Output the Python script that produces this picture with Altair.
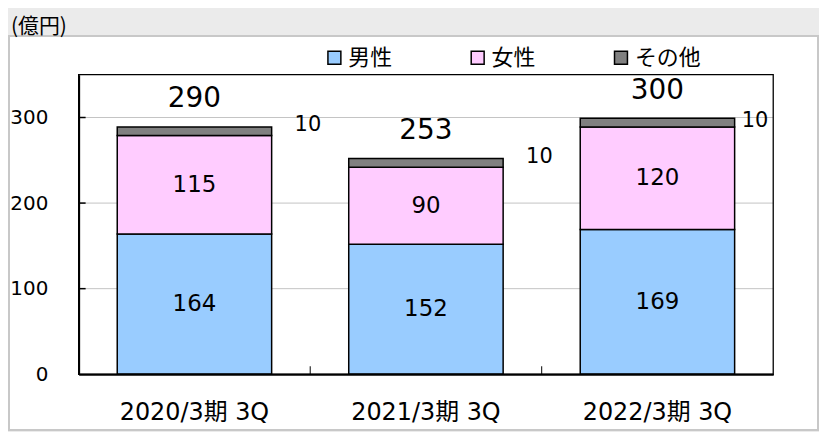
import altair as alt
import pandas as pd

categories = ["2020/3期 3Q", "2021/3期 3Q", "2022/3期 3Q"]
series = ["男性", "女性", "その他"]
male = [164, 152, 169]
female = [115, 90, 120]
other = [10, 10, 10]
totals = [290, 253, 300]
y_ticks = [0, 100, 200, 300]
colors = ["#99CCFF", "#FFCCFF", "#808080"]

rows = []
for i, c in enumerate(categories):
    for k, (s, vals) in enumerate(zip(series, [male, female, other])):
        rows.append({"cat": c, "series": s, "value": vals[i], "order": k})
df = pd.DataFrame(rows)
tot_df = pd.DataFrame({"cat": categories, "total": totals})
tick_df = pd.DataFrame({"v": y_ticks[1:]})
xtick_df = pd.DataFrame({"cat": categories[:-1]})

NUM_FONT = "DejaVu Sans, Noto Sans CJK JP"
JP_FONT = "Noto Sans CJK JP"

W, H = 698, 301

x_scale = alt.Scale(domain=categories, paddingInner=0.333, paddingOuter=0.1667)
y_scale = alt.Scale(domain=[0, 350], nice=False)

x_enc = alt.X("cat:N", scale=x_scale, sort=categories,
              axis=alt.Axis(title=None, labelAngle=0, ticks=False, domain=True,
                            domainColor="black", domainWidth=2, labelFont=NUM_FONT,
                            labelFontSize=24, labelColor="black", labelPadding=26,
                            grid=False, zindex=1))

panel = alt.Chart(alt.Data(values=[{}])).mark_rect(
    fill="white", stroke="#c8c8c8", strokeWidth=2, clip=False
).encode(x=alt.value(-70), x2=alt.value(743), y=alt.value(-39), y2=alt.value(357))

grid = alt.Chart(tick_df).mark_rule(color="#c4c4c4", strokeWidth=1).encode(
    y=alt.Y("v:Q", scale=y_scale)
)

base = alt.Chart(df).transform_stack(
    stack="value", groupby=["cat"], as_=["y0", "y1"],
    sort=[alt.SortField("order", order="ascending")]
).transform_calculate(mid="(datum.y0 + datum.y1) / 2")

bars = base.mark_bar(stroke="black", strokeWidth=1.5).encode(
    x=x_enc,
    y=alt.Y("y0:Q", scale=y_scale,
            axis=alt.Axis(title=None, values=y_ticks, ticks=False, grid=False,
                          domain=True, domainColor="black", domainWidth=2,
                          labelFont=NUM_FONT, labelFontSize=20, labelColor="black",
                          labelPadding=31, zindex=1)),
    y2="y1:Q",
    fill=alt.Fill("series:N", scale=alt.Scale(domain=series, range=colors),
                  legend=alt.Legend(title=None, orient="none", direction="horizontal",
                                    legendX=246, legendY=-28, symbolType="square",
                                    symbolSize=169, symbolStrokeColor="black",
                                    symbolStrokeWidth=1.5, symbolOpacity=1,
                                    labelFont=JP_FONT, labelFontSize=22,
                                    labelColor="black", labelOffset=3,
                                    columnPadding=74, padding=0)),
)

frame = alt.Chart(alt.Data(values=[{}])).mark_rect(
    fill="transparent", stroke="black", strokeWidth=1.3
).encode(x=alt.value(0), x2=alt.value("width"), y=alt.value(0), y2=alt.value("height"))

yticks = alt.Chart(tick_df).mark_rule(color="black", strokeWidth=1.5).encode(
    y=alt.Y("v:Q", scale=y_scale), x=alt.value(0), x2=alt.value(7)
)

xticks = alt.Chart(xtick_df).mark_rule(color="black", strokeWidth=1, xOffset=116.33).encode(
    x=alt.X("cat:N", scale=x_scale, sort=categories), y=alt.value(H - 8), y2=alt.value("height")
)

seg_labels = base.transform_filter(
    alt.FieldOneOfPredicate(field="series", oneOf=series[:2])
).mark_text(font=NUM_FONT, fontSize=23, color="black", baseline="middle").encode(
    x=alt.X("cat:N", scale=x_scale, sort=categories),
    y=alt.Y("mid:Q", scale=y_scale),
    text="value:Q",
)

other_a = base.transform_filter(
    (alt.datum.series == series[2]) & (alt.datum.cat != categories[2])
).mark_text(font=NUM_FONT, fontSize=21, color="black", baseline="middle", dx=114, dy=-6).encode(
    x=alt.X("cat:N", scale=x_scale, sort=categories),
    y=alt.Y("mid:Q", scale=y_scale),
    text="value:Q",
)
other_b = base.transform_filter(
    (alt.datum.series == series[2]) & (alt.datum.cat == categories[2])
).mark_text(font=NUM_FONT, fontSize=21, color="black", baseline="middle", dx=98, dy=-2).encode(
    x=alt.X("cat:N", scale=x_scale, sort=categories),
    y=alt.Y("mid:Q", scale=y_scale),
    text="value:Q",
)

tot_labels = alt.Chart(tot_df).mark_text(
    font=NUM_FONT, fontSize=28, color="black", baseline="middle", dy=-27
).encode(
    x=alt.X("cat:N", scale=x_scale, sort=categories),
    y=alt.Y("total:Q", scale=y_scale),
    text="total:Q",
)

chart = alt.layer(
    panel, grid, bars, frame, yticks, xticks, seg_labels, other_a, other_b, tot_labels
).properties(
    width=W, height=H,
    background="#ebebeb",
    autosize=alt.AutoSizeParams(type="none"),
    padding={"left": 71, "top": 66, "right": 46, "bottom": 57},
    title=alt.TitleParams("(億円)", anchor="start", frame="group", dx=-68, dy=12, offset=10,
                          font=JP_FONT, fontSize=21, fontWeight="normal", color="black"),
).configure_view(strokeWidth=0)

chart.save("out.html", embed_options={"renderer": "svg", "actions": False})
